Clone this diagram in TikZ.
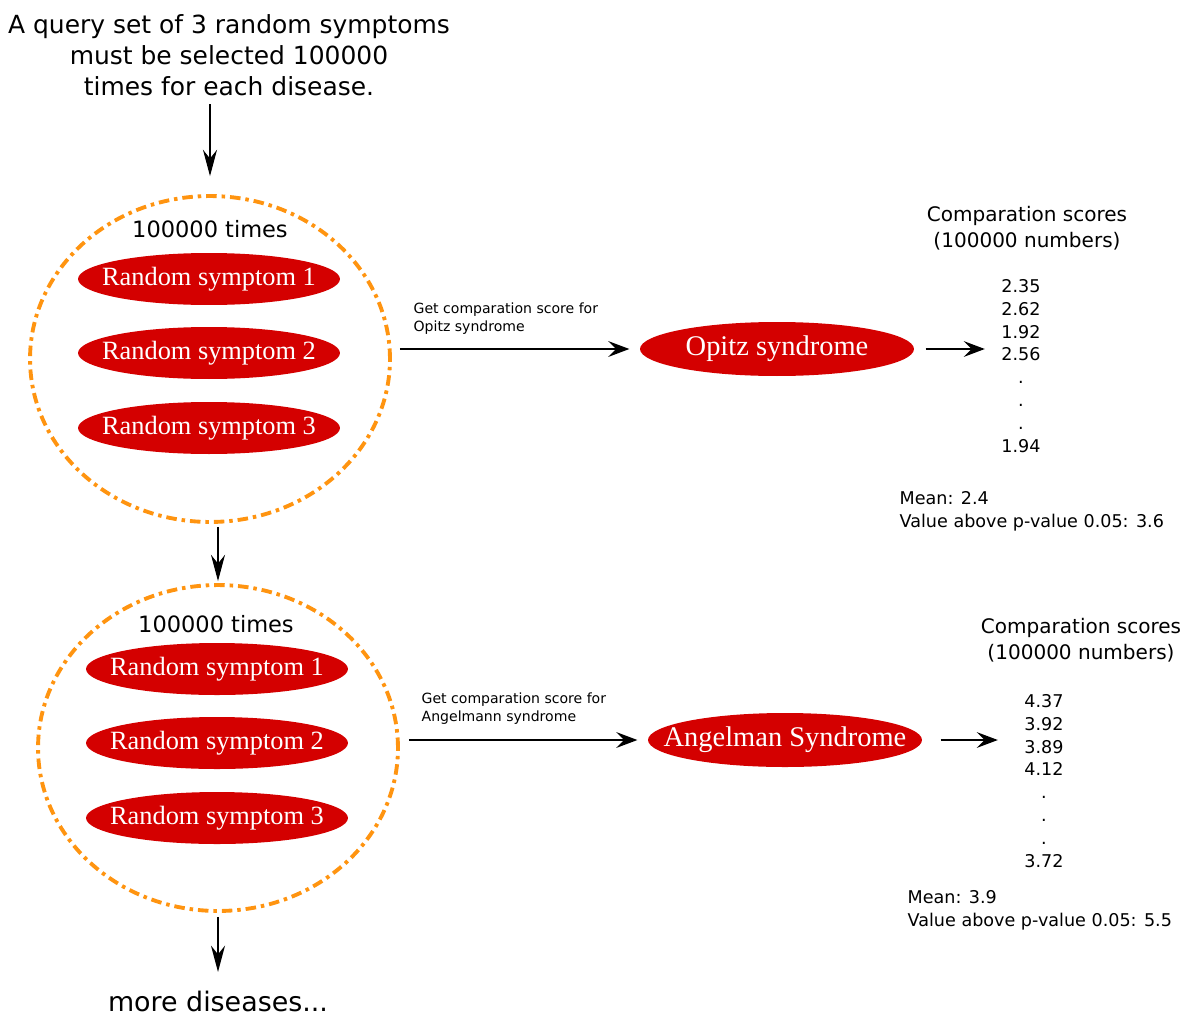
\documentclass[tikz,border=0pt]{standalone}
\usepackage{fontspec}
\setmainfont{Liberation Serif}
\newfontfamily\dejavu{DejaVu Sans}
\usepackage{xcolor}
\usetikzlibrary{arrows.meta, shapes.geometric, positioning}
\definecolor{symred}{RGB}{212,0,0}
\definecolor{grporange}{RGB}{255,148,16}

\begin{document}
\begin{tikzpicture}[x=0.02cm, y=-0.02cm, line width=0.75pt,
    >={Stealth[length=12pt, width=9pt, inset=4.5pt]},
    down/.style={-{Stealth[length=15pt, width=8pt, inset=5pt]}},
    symp/.style={ellipse, fill=symred, text=white, inner xsep=-22pt, inner ysep=0pt,
        minimum width=5.24cm, minimum height=1.04cm, font=\fontsize{15}{18}\selectfont},
    dis/.style={symp, minimum width=5.48cm, minimum height=1.08cm, font=\fontsize{16.2}{19}\selectfont},
    grp/.style={ellipse, draw=grporange, line width=2.2pt, inner sep=0pt,
        dash pattern=on 6pt off 2.8pt on 2pt off 2.8pt,
        minimum width=7.2cm, minimum height=6.52cm},
    txt/.style={align=center, inner sep=0pt}]
    \useasboundingbox (0,0) rectangle (1185,1017);

    % Dòng chữ đầu
    \node[txt, font=\dejavu\fontsize{14.2}{17.6}\selectfont] (title) at (229,55)
        {A query set of 3 random symptoms\\must be selected 100000\\times for each disease.};

    % Nhóm 1
    \node[grp] (grp1) at (210,359) {};
    \node[txt, font=\dejavu\fontsize{12.8}{15}\selectfont] (times1) at (210,229) {100000 times};
    \node[symp] (s11) at (209,279) {Random symptom 1};
    \node[symp] (s12) at (209,353) {Random symptom 2};
    \node[symp] (s13) at (209,428) {Random symptom 3};

    % Nhóm 2
    \node[grp] (grp2) at (218,748) {};
    \node[txt, font=\dejavu\fontsize{12.8}{15}\selectfont] (times2) at (216,624) {100000 times};
    \node[symp] (s21) at (217,669) {Random symptom 1};
    \node[symp] (s22) at (217,743) {Random symptom 2};
    \node[symp] (s23) at (217,818) {Random symptom 3};

    \node[txt, font=\dejavu\fontsize{15.3}{18}\selectfont, anchor=base] (more) at (218,1011) {more diseases...};

    % Bệnh 1
    \node[dis] (opitz) at (777,349) {Opitz syndrome};
    \node[txt, align=left, anchor=west, font=\dejavu\fontsize{8}{10.2}\selectfont] (get1) at (413,319)
        {Get comparation score for\\Opitz syndrome};
    \node[txt, font=\dejavu\fontsize{11.4}{14.7}\selectfont] (head1) at (1027,228)
        {Comparation scores\\(100000 numbers)};
    \node[txt, font=\dejavu\fontsize{10}{13}\selectfont] (nums1) at (1021,366)
        {2.35\\2.62\\1.92\\2.56\\.\\.\\.\\1.94};
    \node[txt, align=left, anchor=west, font=\dejavu\fontsize{10}{13}\selectfont] (mean1) at (899,511)
        {Mean: 2.4\\Value above p-value 0.05: 3.6};

    % Bệnh 2
    \node[dis] (angel) at (785,740) {Angelman Syndrome};
    \node[txt, align=left, anchor=west, font=\dejavu\fontsize{8}{10.2}\selectfont] (get2) at (421,709)
        {Get comparation score for\\Angelmann syndrome};
    \node[txt, font=\dejavu\fontsize{11.4}{14.7}\selectfont] (head2) at (1081,640)
        {Comparation scores\\(100000 numbers)};
    \node[txt, font=\dejavu\fontsize{10}{13}\selectfont] (nums2) at (1044,781)
        {4.37\\3.92\\3.89\\4.12\\.\\.\\.\\3.72};
    \node[txt, align=left, anchor=west, font=\dejavu\fontsize{10}{13}\selectfont] (mean2) at (907,910)
        {Mean: 3.9\\Value above p-value 0.05: 5.5};

    % Mũi tên
    \draw[down, shorten <=0.16cm, shorten >=0.36cm] (title.south -| grp1.north) -- (grp1.north);
    \draw[down, shorten <=0.06cm, shorten >=0.04cm] (grp1.south -| grp2.north) -- (grp2.north);
    \draw[down, shorten <=0.08cm, shorten >=0.36cm] (grp2.south) -- (more.north);
    \draw[->, shorten <=0.16cm, shorten >=0.2cm] (grp1.east |- opitz.west) -- (opitz.west);
    \draw[->, shorten <=0.22cm, shorten >=0.32cm] (opitz.east) -- (opitz.east -| nums1.west);
    \draw[->, shorten <=0.18cm, shorten >=0.2cm] (grp2.east |- angel.west) -- (angel.west);
    \draw[->, shorten <=0.36cm, shorten >=0.52cm] (angel.east) -- (angel.east -| nums2.west);
\end{tikzpicture}
\end{document}
